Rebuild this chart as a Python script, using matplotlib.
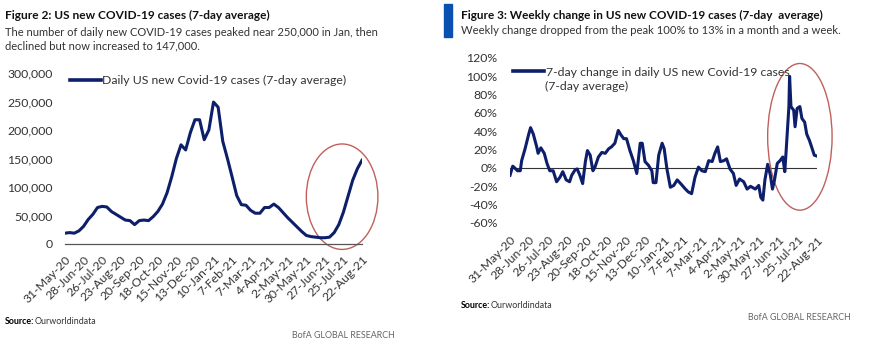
import numpy as np
import pandas as pd
import matplotlib
matplotlib.use("Agg")
import matplotlib.pyplot as plt
import matplotlib.dates as mdates
from matplotlib.patches import Ellipse, Rectangle
from matplotlib.ticker import FuncFormatter, MultipleLocator

plt.rcParams['font.family'] = ['Lato', 'DejaVu Sans']

# --- data ---
start = pd.Timestamp("2020-05-31")

# Figure 2: weekly readings of daily new cases (7-day avg), 31-May-20 .. 22-Aug-21
cases = [19000, 20000, 19000, 23000, 31000, 43000, 52000, 64000, 66000, 65000,
         57000, 52000, 47000, 42000, 41000, 34000, 41000, 42000, 41000, 48000,
         57000, 70000, 90000, 118000, 150000, 174000, 165000, 195000, 218000, 218000,
         183000, 200000, 249000, 240000, 180000, 150000, 118000, 85000, 69000, 68000,
         59000, 54000, 54000, 64000, 64000, 70000, 64000, 55000, 46000, 38000,
         30000, 22000, 15000, 13000, 12000, 11000, 11000, 12000, 20000, 34000,
         56000, 84000, 112000, 132000, 147000]
case_dates = start + pd.to_timedelta(np.arange(len(cases)) * 7, unit="D")

# Figure 3: 7-day change (%), day offsets from 31-May-20
change_days = [0, 4, 7, 11, 15, 17, 22, 27, 30, 34, 39, 41, 45, 50, 54, 58, 63, 68, 73, 77,
               82, 87, 90, 95, 98, 102, 106, 110, 113, 117, 121, 124, 129, 134, 139, 144, 148,
               153, 158, 162, 166, 170, 175, 180, 185, 190, 193, 197, 202, 207, 209, 213, 217,
               222, 225, 229, 234, 239, 244, 249, 256, 260, 265, 270, 275, 280, 285, 290, 295,
               299, 303, 307, 312, 316, 321, 326, 330, 335, 341, 346, 351, 358, 363, 366, 369,
               372, 376, 380, 383, 386, 390, 394, 398, 401, 403, 407, 408, 410, 414, 416, 419,
               423, 426, 430, 433, 437, 441, 444, 448]
change_pct = [-8, 2, 0, -3, -3, 8, 21, 36, 44, 37, 23, 16, 22, 16, 5, -3, -3, -15, -10, -4,
              -13, -15, -8, -2, -1, -8, -17, 7, 19, 14, -3, 1, 12, 17, 16, 21, 23,
              27, 41, 36, 32, 32, 19, 8, -6, 27, 27, 7, 3, -3, -16, -16, 14,
              27, 21, -1, -21, -19, -13, -17, -23, -26, -28, -10, 1, -3, -4, 8, 7,
              16, 23, 7, 8, 10, -1, -6, -19, -12, -15, -23, -20, -23, -19, -32, -35,
              -13, 4, -8, -23, -13, 5, 8, 12, -4, 19, 67, 100, 67, 63, 45, 65,
              67, 54, 50, 37, 30, 21, 14, 13]
change_dates = start + pd.to_timedelta(change_days, unit="D")

tick_dates = pd.date_range("2020-05-31", "2021-08-22", freq="28D")
tick_labels = [d.strftime("%-d-%b-%y") for d in tick_dates]

navy = "#0d1f6a"
red = "#c0605c"
grey_txt = "#333333"

W, H = 888, 343
fig = plt.figure(figsize=(W / 100, H / 100), dpi=100)


def box(x0, y0, x1, y1):
    return [x0 / W, 1 - y1 / H, (x1 - x0) / W, (y1 - y0) / H]


def style_dates(ax, pad):
    ax.set_xlim(tick_dates[0], tick_dates[-1])
    ax.set_xticks(tick_dates)
    ax.set_xticklabels(tick_labels, rotation=45, ha="right", rotation_mode="anchor",
                       fontsize=8.8, color=grey_txt)
    ax.tick_params(axis="x", length=0, pad=pad)
    ax.tick_params(axis="y", length=0, labelsize=8.8, colors=grey_txt, pad=9)
    for s in ax.spines.values():
        s.set_visible(False)


# ---------- Figure 2 ----------
ax1 = fig.add_axes(box(65, 73, 362, 244))
ax1.plot(case_dates, cases, color=navy, lw=2.2)
ax1.set_ylim(0, 300000)
ax1.yaxis.set_major_locator(MultipleLocator(50000))
ax1.yaxis.set_major_formatter(FuncFormatter(lambda v, p: f"{int(v):,}"))
style_dates(ax1, pad=7)
ax1.spines["bottom"].set_visible(True)
ax1.spines["bottom"].set_color("#555555")
ax1.spines["bottom"].set_linewidth(0.9)
leg1 = ax1.legend(["Daily US new Covid-19 cases (7-day average)"], loc="upper left",
                  bbox_to_anchor=(-0.02, 1.05), frameon=False, fontsize=8.8, handlelength=2.5,
                  handletextpad=0.15, labelcolor=grey_txt)
leg1.get_lines()[0].set_linewidth(2.6)
ax1.add_patch(Ellipse((mdates.date2num(start + pd.Timedelta(days=418)), 83000),
                      width=108, height=185000, fill=False, ec=red, lw=1.0, clip_on=False))

fig.text(5 / W, 1 - 15 / H, "Figure 2: US new COVID-19 cases (7-day average)",
         fontsize=8.6, fontweight="bold", va="center", color="#111111")
fig.text(5 / W, 1 - 39 / H,
         "The number of daily new COVID-19 cases peaked near 250,000 in Jan, then\n"
         "declined but now increased to 147,000.",
         fontsize=8.0, va="center", color=grey_txt, linespacing=1.3)
fig.text(5 / W, 1 - 322 / H, "Source:", fontsize=6.4, fontweight="bold", va="center")
fig.text(35 / W, 1 - 322 / H, "Ourworldindata", fontsize=6.4, va="center", color=grey_txt)
fig.text(292 / W, 1 - 335 / H, "BofA GLOBAL RESEARCH", fontsize=6.4, va="center", color="#666666")

# ---------- Figure 3 ----------
ax2 = fig.add_axes(box(510, 58, 817, 223))
ax2.plot(change_dates, change_pct, color=navy, lw=2.2)
ax2.axhline(0, color="#333333", lw=0.8, zorder=0)
ax2.set_ylim(-60, 120)
ax2.yaxis.set_major_locator(MultipleLocator(20))
ax2.yaxis.set_major_formatter(FuncFormatter(lambda v, p: f"{int(v)}%"))
style_dates(ax2, pad=8)
leg2 = ax2.legend(["7-day change in daily US new Covid-19 cases"], loc="upper left",
                  bbox_to_anchor=(-0.025, 1.015), frameon=False, fontsize=8.8, handlelength=2.5,
                  handletextpad=0.15, labelcolor=grey_txt)
leg2.get_lines()[0].set_linewidth(2.6)
fig.text(545 / W, 1 - 86 / H, "(7-day average)", fontsize=8.8, va="center", color=grey_txt)
ax2.add_patch(Ellipse((mdates.date2num(start + pd.Timedelta(days=423)), 34),
                      width=94, height=160, fill=False, ec=red, lw=1.0, clip_on=False))

fig.patches.append(Rectangle((444 / W, 1 - 37 / H), 8 / W, 33 / H, transform=fig.transFigure,
                             color="#0a50b0"))
fig.text(461 / W, 1 - 15 / H, "Figure 3: Weekly change in US new COVID-19 cases (7-day  average)",
         fontsize=8.5, fontweight="bold", va="center", color="#111111")
fig.text(461 / W, 1 - 31 / H,
         "Weekly change dropped from the peak 100% to 13% in a month and a week.",
         fontsize=8.1, va="center", color=grey_txt)
fig.text(461 / W, 1 - 305 / H, "Source:", fontsize=6.4, fontweight="bold", va="center")
fig.text(491 / W, 1 - 305 / H, "Ourworldindata", fontsize=6.4, va="center", color=grey_txt)
fig.text(748 / W, 1 - 318 / H, "BofA GLOBAL RESEARCH", fontsize=6.4, va="center", color="#666666")

fig.savefig("out.png", dpi=100)
